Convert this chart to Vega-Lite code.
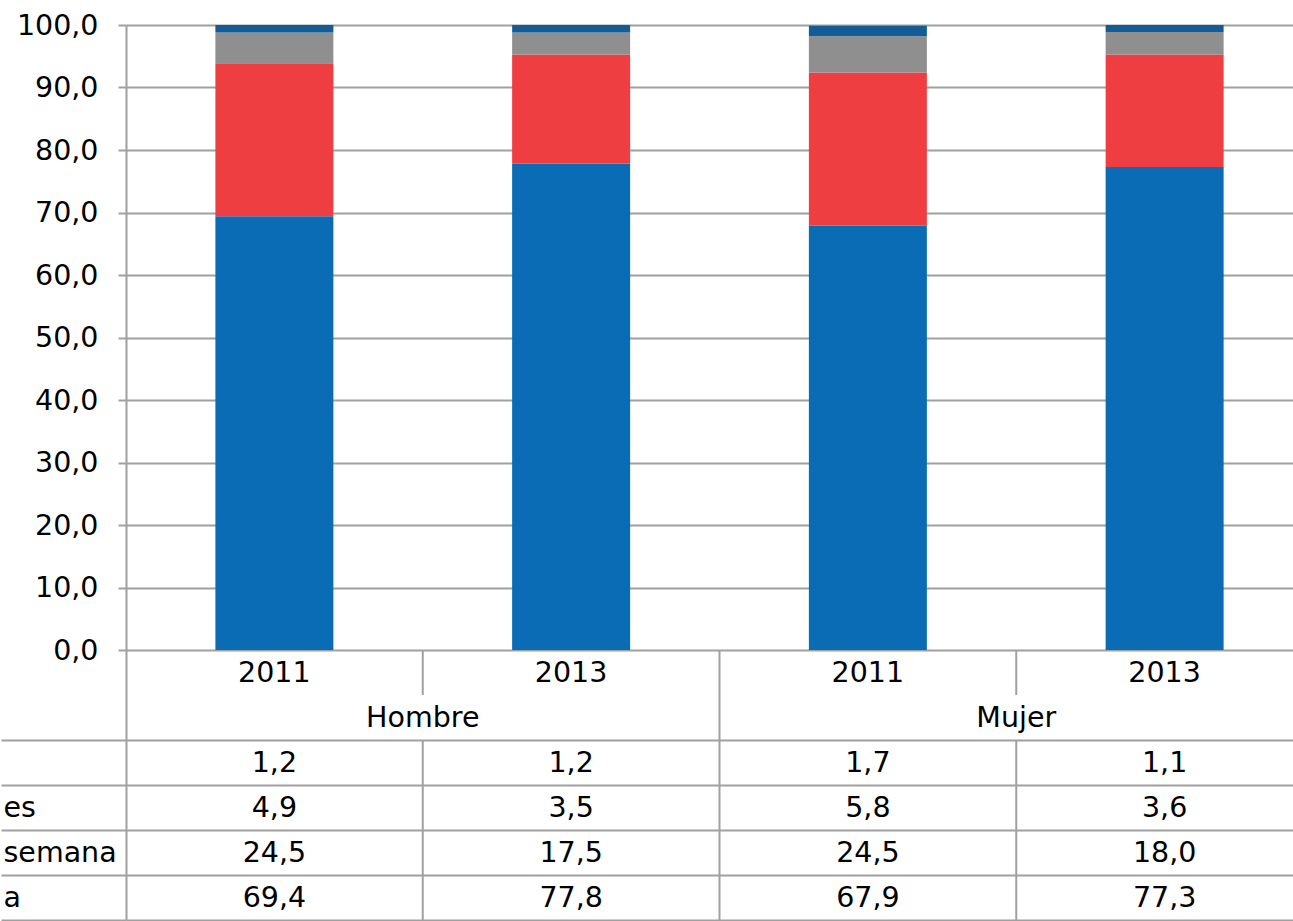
{
  "$schema": "https://vega.github.io/schema/vega-lite/v6.json",
  "background": "white",
  "padding": {"left": 0, "top": 11, "right": 0, "bottom": 0},
  "spacing": 0,
  "bounds": "flush",
  "config": {
    "font": "DejaVu Sans",
    "view": {"stroke": null},
    "locale": {"number": {"decimal": ",", "thousands": ".", "grouping": [3], "currency": ["", " €"]}}
  },
  "datasets": {
    "barras": [
      {"col": "Hombre 2011", "sexo": "Hombre", "anio": "2011", "serie": "a", "orden": 1, "valor": 69.4},
      {"col": "Hombre 2011", "sexo": "Hombre", "anio": "2011", "serie": "semana", "orden": 2, "valor": 24.5},
      {"col": "Hombre 2011", "sexo": "Hombre", "anio": "2011", "serie": "es", "orden": 3, "valor": 4.9},
      {"col": "Hombre 2011", "sexo": "Hombre", "anio": "2011", "serie": "otra", "orden": 4, "valor": 1.2},
      {"col": "Hombre 2013", "sexo": "Hombre", "anio": "2013", "serie": "a", "orden": 1, "valor": 77.8},
      {"col": "Hombre 2013", "sexo": "Hombre", "anio": "2013", "serie": "semana", "orden": 2, "valor": 17.5},
      {"col": "Hombre 2013", "sexo": "Hombre", "anio": "2013", "serie": "es", "orden": 3, "valor": 3.5},
      {"col": "Hombre 2013", "sexo": "Hombre", "anio": "2013", "serie": "otra", "orden": 4, "valor": 1.2},
      {"col": "Mujer 2011", "sexo": "Mujer", "anio": "2011", "serie": "a", "orden": 1, "valor": 67.9},
      {"col": "Mujer 2011", "sexo": "Mujer", "anio": "2011", "serie": "semana", "orden": 2, "valor": 24.5},
      {"col": "Mujer 2011", "sexo": "Mujer", "anio": "2011", "serie": "es", "orden": 3, "valor": 5.8},
      {"col": "Mujer 2011", "sexo": "Mujer", "anio": "2011", "serie": "otra", "orden": 4, "valor": 1.7},
      {"col": "Mujer 2013", "sexo": "Mujer", "anio": "2013", "serie": "a", "orden": 1, "valor": 77.3},
      {"col": "Mujer 2013", "sexo": "Mujer", "anio": "2013", "serie": "semana", "orden": 2, "valor": 18.0},
      {"col": "Mujer 2013", "sexo": "Mujer", "anio": "2013", "serie": "es", "orden": 3, "valor": 3.6},
      {"col": "Mujer 2013", "sexo": "Mujer", "anio": "2013", "serie": "otra", "orden": 4, "valor": 1.1}
    ],
    "cabecera": [
      {"col": "Hombre 2011", "fila": "anio", "texto": "2011"},
      {"col": "Hombre 2013", "fila": "anio", "texto": "2013"},
      {"col": "Mujer 2011", "fila": "anio", "texto": "2011"},
      {"col": "Mujer 2013", "fila": "anio", "texto": "2013"}
    ],
    "sexos": [
      {"sexo": "Hombre", "fila": "sexo"},
      {"sexo": "Mujer", "fila": "sexo"}
    ],
    "vlineas": [
      {"col": "Hombre 2013", "fila": "anio", "fila2": "anio"},
      {"col": "Hombre 2013", "fila": "otra", "fila2": "a"},
      {"col": "Mujer 2011", "fila": "anio", "fila2": "a"},
      {"col": "Mujer 2013", "fila": "anio", "fila2": "anio"},
      {"col": "Mujer 2013", "fila": "otra", "fila2": "a"}
    ]
  },
  "resolve": {"scale": {"x": "independent", "y": "independent", "color": "independent"}},
  "vconcat": [
    {
      "width": 1168,
      "height": 625,
      "data": {"name": "barras"},
      "mark": {"type": "bar"},
      "encoding": {
        "x": {
          "field": "col", "type": "nominal",
          "scale": {"domain": ["Hombre 2011", "Hombre 2013", "Mujer 2011", "Mujer 2013"], "range": [0, 1187], "paddingInner": 0.6024, "paddingOuter": 0.3012},
          "axis": null
        },
        "y": {
          "field": "valor", "type": "quantitative", "stack": "zero",
          "scale": {"domain": [0, 100], "nice": false},
          "axis": {
            "title": null, "values": [0, 10, 20, 30, 40, 50, 60, 70, 80, 90, 100], "format": ".1f",
            "grid": true, "gridColor": "#a0a0a0", "gridWidth": 2,
            "tickColor": "#a0a0a0", "tickWidth": 2, "tickSize": 8,
            "domainColor": "#a0a0a0", "domainWidth": 2,
            "labelFont": "DejaVu Sans", "labelFontSize": 28.5, "labelColor": "#000000", "labelPadding": 20
          }
        },
        "color": {
          "field": "serie", "type": "nominal",
          "scale": {"domain": ["a", "semana", "es", "otra"], "range": ["#0a6cb5", "#ef3e42", "#8f8f8f", "#135c96"]},
          "legend": null
        },
        "order": {"field": "orden", "type": "quantitative"}
      }
    },
    {
      "width": 1168,
      "height": 270,
      "resolve": {"scale": {"x": "independent"}},
      "layer": [
        {
          "data": {"name": "vlineas"},
          "mark": {"type": "rule", "color": "#a0a0a0", "strokeWidth": 2},
          "encoding": {
            "x": {
              "field": "col", "type": "nominal", "bandPosition": 0,
              "scale": {"domain": ["Hombre 2011", "Hombre 2013", "Mujer 2011", "Mujer 2013"], "range": [0, 1187], "paddingInner": 0, "paddingOuter": 0},
              "axis": null
            },
            "y": {
              "field": "fila", "type": "nominal", "bandPosition": 0,
              "scale": {"domain": ["anio", "sexo", "otra", "es", "semana", "a"], "paddingInner": 0, "paddingOuter": 0},
              "axis": {
                "title": null, "values": ["otra", "es", "semana", "a"], "tickBand": "extent",
                "tickSize": 125, "tickColor": "#a0a0a0", "tickWidth": 2,
                "labelPadding": -2, "labelAlign": "left", "labelFont": "DejaVu Sans", "labelFontSize": 28.5, "labelColor": "#000000",
                "labelExpr": "datum.value == 'otra' ? '' : datum.value",
                "grid": true, "gridColor": "#a0a0a0", "gridWidth": 2,
                "domainColor": "#a0a0a0", "domainWidth": 2
              }
            },
            "y2": {"field": "fila2", "bandPosition": 1}
          }
        },
        {
          "data": {"name": "cabecera"},
          "mark": {"type": "text", "font": "DejaVu Sans", "fontSize": 28.5, "color": "#000000", "align": "center", "baseline": "middle"},
          "encoding": {
            "x": {
              "field": "col", "type": "nominal",
              "scale": {"domain": ["Hombre 2011", "Hombre 2013", "Mujer 2011", "Mujer 2013"], "range": [0, 1187], "paddingInner": 0, "paddingOuter": 0},
              "axis": null
            },
            "y": {
              "field": "fila", "type": "nominal",
              "scale": {"domain": ["anio", "sexo", "otra", "es", "semana", "a"], "paddingInner": 0, "paddingOuter": 0},
              "axis": {
                "title": null, "values": ["otra", "es", "semana", "a"], "tickBand": "extent",
                "tickSize": 125, "tickColor": "#a0a0a0", "tickWidth": 2,
                "labelPadding": -2, "labelAlign": "left", "labelFont": "DejaVu Sans", "labelFontSize": 28.5, "labelColor": "#000000",
                "labelExpr": "datum.value == 'otra' ? '' : datum.value",
                "grid": true, "gridColor": "#a0a0a0", "gridWidth": 2,
                "domainColor": "#a0a0a0", "domainWidth": 2
              }
            },
            "text": {"field": "texto", "type": "nominal"}
          }
        },
        {
          "data": {"name": "sexos"},
          "mark": {"type": "text", "font": "DejaVu Sans", "fontSize": 28.5, "color": "#000000", "align": "center", "baseline": "middle"},
          "encoding": {
            "x": {
              "field": "sexo", "type": "nominal",
              "scale": {"domain": ["Hombre", "Mujer"], "range": [0, 1187], "paddingInner": 0, "paddingOuter": 0},
              "axis": null
            },
            "y": {
              "field": "fila", "type": "nominal",
              "scale": {"domain": ["anio", "sexo", "otra", "es", "semana", "a"], "paddingInner": 0, "paddingOuter": 0},
              "axis": {
                "title": null, "values": ["otra", "es", "semana", "a"], "tickBand": "extent",
                "tickSize": 125, "tickColor": "#a0a0a0", "tickWidth": 2,
                "labelPadding": -2, "labelAlign": "left", "labelFont": "DejaVu Sans", "labelFontSize": 28.5, "labelColor": "#000000",
                "labelExpr": "datum.value == 'otra' ? '' : datum.value",
                "grid": true, "gridColor": "#a0a0a0", "gridWidth": 2,
                "domainColor": "#a0a0a0", "domainWidth": 2
              }
            },
            "text": {"field": "sexo", "type": "nominal"}
          }
        },
        {
          "data": {"name": "barras"},
          "mark": {"type": "text", "font": "DejaVu Sans", "fontSize": 28.5, "color": "#000000", "align": "center", "baseline": "middle"},
          "encoding": {
            "x": {
              "field": "col", "type": "nominal",
              "scale": {"domain": ["Hombre 2011", "Hombre 2013", "Mujer 2011", "Mujer 2013"], "range": [0, 1187], "paddingInner": 0, "paddingOuter": 0},
              "axis": null
            },
            "y": {
              "field": "serie", "type": "nominal",
              "scale": {"domain": ["anio", "sexo", "otra", "es", "semana", "a"], "paddingInner": 0, "paddingOuter": 0},
              "axis": {
                "title": null, "values": ["otra", "es", "semana", "a"], "tickBand": "extent",
                "tickSize": 125, "tickColor": "#a0a0a0", "tickWidth": 2,
                "labelPadding": -2, "labelAlign": "left", "labelFont": "DejaVu Sans", "labelFontSize": 28.5, "labelColor": "#000000",
                "labelExpr": "datum.value == 'otra' ? '' : datum.value",
                "grid": true, "gridColor": "#a0a0a0", "gridWidth": 2,
                "domainColor": "#a0a0a0", "domainWidth": 2
              }
            },
            "text": {"field": "valor", "type": "quantitative", "format": ".1f"}
          }
        }
      ]
    }
  ]
}
